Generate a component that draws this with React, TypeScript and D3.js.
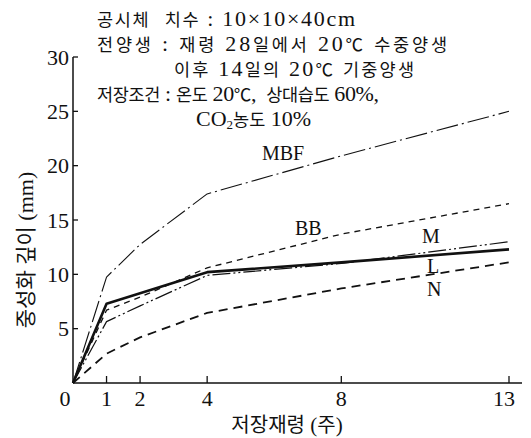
import React from "react";
import * as d3 from "d3";

const weeks = [0, 1, 2, 4, 8, 13];
const MBF = [0, 9.75, 12.75, 17.4, 20.9, 25.0];
const BB = [0, 6.7, 7.9, 10.6, 13.7, 16.5];
const M = [0, 5.65, 7.1, 9.9, 11.0, 13.0];
const L = [0, 7.3, 8.25, 10.2, 11.1, 12.3];
const N = [0, 2.7, 4.2, 6.45, 8.7, 11.1];

const xTicks = [0, 1, 2, 4, 8, 13];
const yTicks = [5, 10, 15, 20, 25, 30];

const titleLines = [
  "공시체  치수 : 10×10×40cm",
  "전양생 : 재령 28일에서 20℃ 수중양생",
  "이후 14일의 20℃ 기중양생",
  "저장조건 : 온도 20℃,  상대습도 60%,",
];
const xTitle = "저장재령 (주)";
const yTitle = "중성화 깊이 (mm)";

const series = [
  { name: "MBF", values: MBF, dash: "22,4,2,4", width: 1.1, lx: 262, ly: 160 },
  { name: "BB", values: BB, dash: "6,5", width: 1.3, lx: 295, ly: 235 },
  { name: "M", values: M, dash: "18,3,2,3,2,3", width: 1.2, lx: 422, ly: 243 },
  { name: "L", values: L, dash: "", width: 2.6, lx: 427, ly: 273 },
  { name: "N", values: N, dash: "9,6", width: 1.8, lx: 427, ly: 296 },
];

const fontLa = "Liberation Serif, DejaVu Serif, serif";
const fontKo = "Noto Sans CJK KR, Noto Sans CJK SC, sans-serif";
const koRe = /[\uAC00-\uD7A3\u2103]/;

function Mixed({ x = 0, y = 0, text, ko = 17.5, la = 22, anchor = "start", transform, len }: any) {
  const parts = text.split(/([\uAC00-\uD7A3\u2103]+)/).filter((s: string) => s.length);
  return (
    <text
      x={x}
      y={y}
      textAnchor={anchor}
      transform={transform}
      style={{ whiteSpace: "pre" }}
      fill="#111"
      textLength={len}
      lengthAdjust={len ? "spacing" : undefined}
    >
      {parts.map((p: string, i: number) =>
        koRe.test(p) ? (
          <tspan key={i} style={{ fontFamily: fontKo, fontSize: ko }}>{p}</tspan>
        ) : (
          <tspan key={i} style={{ fontFamily: fontLa, fontSize: la }}>{p}</tspan>
        )
      )}
    </text>
  );
}

export default function App() {
  const W = 531, H = 438;
  const x = d3.scaleLinear().domain([0, 13]).range([73, 509]);
  const y = d3.scaleLinear().domain([0, 30]).range([383, 57]);
  const line = d3
    .line<number>()
    .x((_, i) => x(weeks[i]))
    .y((d) => y(d));
  const numStyle = { fontFamily: fontLa, fontSize: 22 };

  return (
    <svg width={W} height={H} style={{ position: "absolute", left: 0, top: 0, background: "#fff" }}>
      {/* axes */}
      <line x1={x(0)} y1={y(0)} x2={522} y2={y(0)} stroke="#111" strokeWidth={1.5} />
      <line x1={x(0)} y1={y(0)} x2={x(0)} y2={y(30)} stroke="#111" strokeWidth={1.5} />
      {yTicks.map((t) => (
        <g key={t}>
          <line x1={x(0)} x2={x(0) + 5} y1={y(t)} y2={y(t)} stroke="#111" strokeWidth={1.3} />
          <text x={x(0) - 4} y={y(t)} dy="0.35em" textAnchor="end" style={numStyle} fill="#111">
            {t}
          </text>
        </g>
      ))}
      {xTicks.map((t) => (
        <g key={t}>
          {t > 0 && <line x1={x(t)} x2={x(t)} y1={y(0)} y2={y(0) - 7} stroke="#111" strokeWidth={1.3} />}
          <text x={t === 0 ? x(0) - 8 : x(t) - (t === 13 ? 5 : 0)} y={406} textAnchor="middle" style={numStyle} fill="#111">
            {t}
          </text>
        </g>
      ))}

      {/* series */}
      {series.map((s) => (
        <g key={s.name}>
          <path d={line(s.values) || ""} fill="none" stroke="#111" strokeWidth={s.width} strokeDasharray={s.dash || undefined} strokeLinejoin="round" />
          <text x={s.lx} y={s.ly} style={{ fontFamily: fontLa, fontSize: 20 }} fill="#111">{s.name}</text>
        </g>
      ))}

      {/* title block */}
      <Mixed x={97} y={26} text={titleLines[0]} len={258} />
      <Mixed x={97} y={51} text={titleLines[1]} len={350} />
      <Mixed x={174} y={76} text={titleLines[2]} len={240} />
      <Mixed x={97} y={101} text={titleLines[3]} len={282} />
      <text x={196} y={126} fill="#111" style={{ whiteSpace: "pre" }}>
        <tspan style={{ fontFamily: fontLa, fontSize: 22 }}>CO</tspan>
        <tspan style={{ fontFamily: fontLa, fontSize: 13 }} dy={3}>2</tspan>
        <tspan style={{ fontFamily: fontKo, fontSize: 17.5 }} dy={-3}>농도</tspan>
        <tspan style={{ fontFamily: fontLa, fontSize: 22 }}> 10%</tspan>
      </text>

      {/* axis titles */}
      <Mixed x={287} y={432} text={xTitle} anchor="middle" ko={20} la={21} />
      <Mixed text={yTitle} anchor="middle" ko={21} la={22} transform="translate(33,250) rotate(-90)" />
    </svg>
  );
}
